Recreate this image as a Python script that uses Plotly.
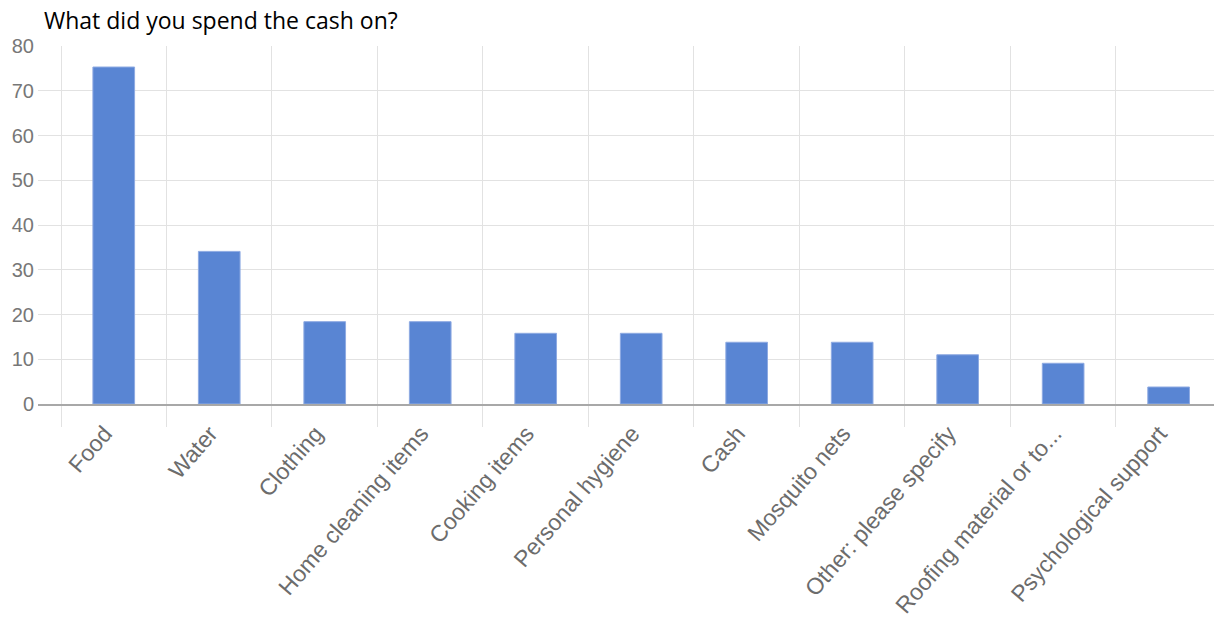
import plotly.graph_objects as go

# Survey responses: what the cash transfer was spent on
categories = [
    "Food", "Water", "Clothing", "Home cleaning items", "Cooking items",
    "Personal hygiene", "Cash", "Mosquito nets", "Other: please specify",
    "Roofing material or to...", "Psychological support",
]
values = [75.3, 34.1, 18.4, 18.4, 15.8, 15.8, 13.8, 13.8, 11.0, 9.1, 3.8]
y_ticks = [0, 10, 20, 30, 40, 50, 60, 70, 80]

title_text = "What did you spend the cash on?"

BAR = "#5985d3"
GRID = "#e2e2e2"
LABEL = "#6c6c6c"

fig = go.Figure(
    go.Bar(
        x=categories,
        y=values,
        width=0.395,
        marker=dict(color=BAR, line=dict(color="#8eaae2", width=1)),
        hoverinfo="x+y",
    )
)

fig.update_layout(
    width=1214,
    height=622,
    margin=dict(l=38, r=0, t=46, b=218),
    paper_bgcolor="white",
    plot_bgcolor="white",
    showlegend=False,
    title=dict(
        text=title_text,
        font=dict(family="Open Sans", size=23, color="#000000"),
        xref="container", yref="container",
        x=44 / 1214, xanchor="left",
        y=1 - 21 / 622, yanchor="middle",
    ),
    font=dict(family="Liberation Sans, Arial", color=LABEL),
)

fig.update_xaxes(
    type="category",
    range=[-0.718, 10.43],
    tickson="boundaries",
    showgrid=True,
    gridcolor=GRID,
    gridwidth=1,
    ticks="outside",
    ticklen=21,
    tickcolor=GRID,
    tickwidth=1,
    tickangle=-49,
    tickfont=dict(family="Liberation Sans, Arial", size=23, color=LABEL),
    ticklabelshift=-9,
    ticklabelstandoff=5,
    showline=True,
    linecolor="#a8a8a8",
    linewidth=2,
    zeroline=False,
)

fig.update_yaxes(
    range=[0, 80],
    tickvals=y_ticks,
    showgrid=True,
    gridcolor=GRID,
    gridwidth=1,
    zeroline=False,
    showline=False,
    ticks="",
    tickfont=dict(family="Liberation Sans, Arial", size=20, color="#777777"),
    ticklabelstandoff=3,
)

fig.write_html("out.html")
